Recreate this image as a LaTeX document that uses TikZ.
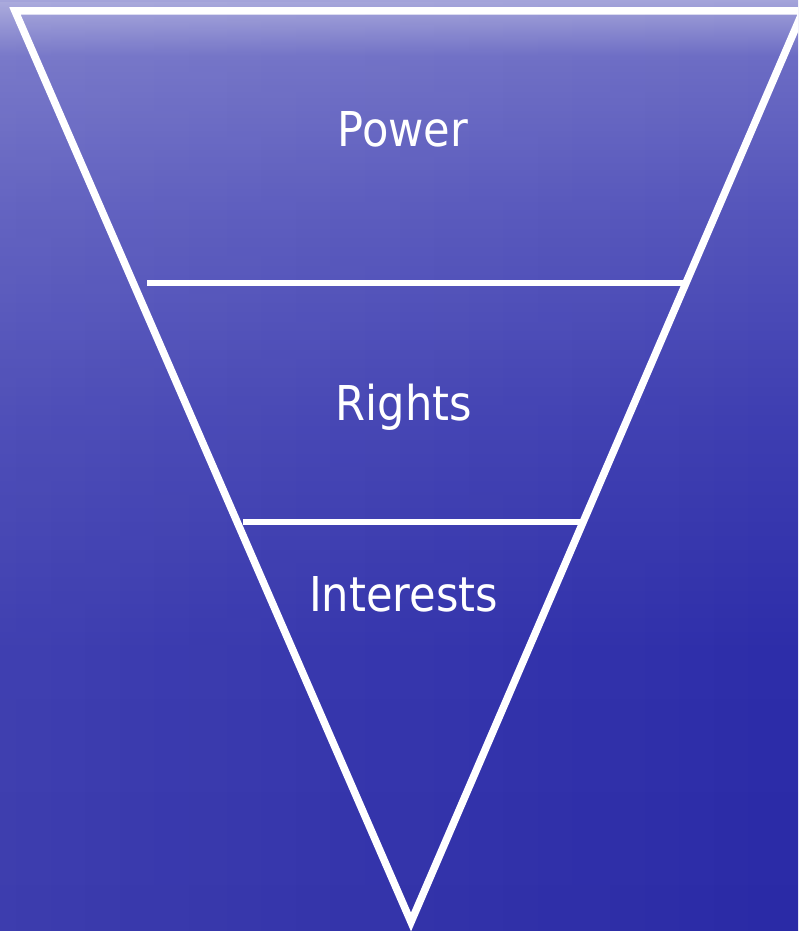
\documentclass[tikz,border=0pt]{standalone}
\usepackage{fontspec}
\setmainfont{DejaVu Sans Condensed}
\usetikzlibrary{fadings}

% sea-blue backdrop, darker towards the bottom
\definecolor{seaA}{HTML}{2A2AA6}
\definecolor{seaB}{HTML}{2D2DA9}
\definecolor{seaC}{HTML}{3E3EB1}
\definecolor{seaD}{HTML}{5555BB}
\definecolor{seaE}{HTML}{6C6CC4}
\definecolor{seaF}{HTML}{A4A4DA}
\pgfdeclareverticalshading{sea}{100bp}{%
  color(0bp)=(seaA); color(25bp)=(seaA); color(40bp)=(seaB);
  color(52.5bp)=(seaC); color(64bp)=(seaD); color(72bp)=(seaE);
  color(75bp)=(seaF); color(100bp)=(seaF)}

\tikzset{
  rim/.style={draw=white, line width=7.5pt, line join=miter},
  tier/.style={draw=white, line width=5.5pt},
  label/.style={text=white, font=\fontsize{48}{58}\selectfont, anchor=base, inner sep=0pt}
}

\begin{document}
\begin{tikzpicture}[x=1pt,y=1pt]
  \useasboundingbox (0,0) rectangle (798,931);
  \clip (0,0) rectangle (798,931);

  % backdrop, slightly paler on the left
  \shade[shading=sea] (0,0) rectangle (798,931);
  \fill[white, fill opacity=0.09, path fading=east] (0,0) rectangle (798,931);

  % corners of the inverted triangle
  \coordinate (tl) at (15,920);
  \coordinate (tr) at (803,920);
  \coordinate (apex) at (411,9);

  % tier boundaries
  \coordinate (upL) at (147,648);
  \coordinate (upR) at (686,648);
  \coordinate (loL) at (243,409);
  \coordinate (loR) at (583,409);

  \draw[rim] (tl) -- (tr) -- (apex) -- cycle;
  \draw[tier] (upL) -- (upR);
  \draw[tier] (loL) -- (loR);

  \node[label] (power) at (403,784) {Power};
  \node[label] (rights) at (404,510) {Rights};
  \node[label] (interests) at (403.5,319) {Interests};
\end{tikzpicture}
\end{document}
